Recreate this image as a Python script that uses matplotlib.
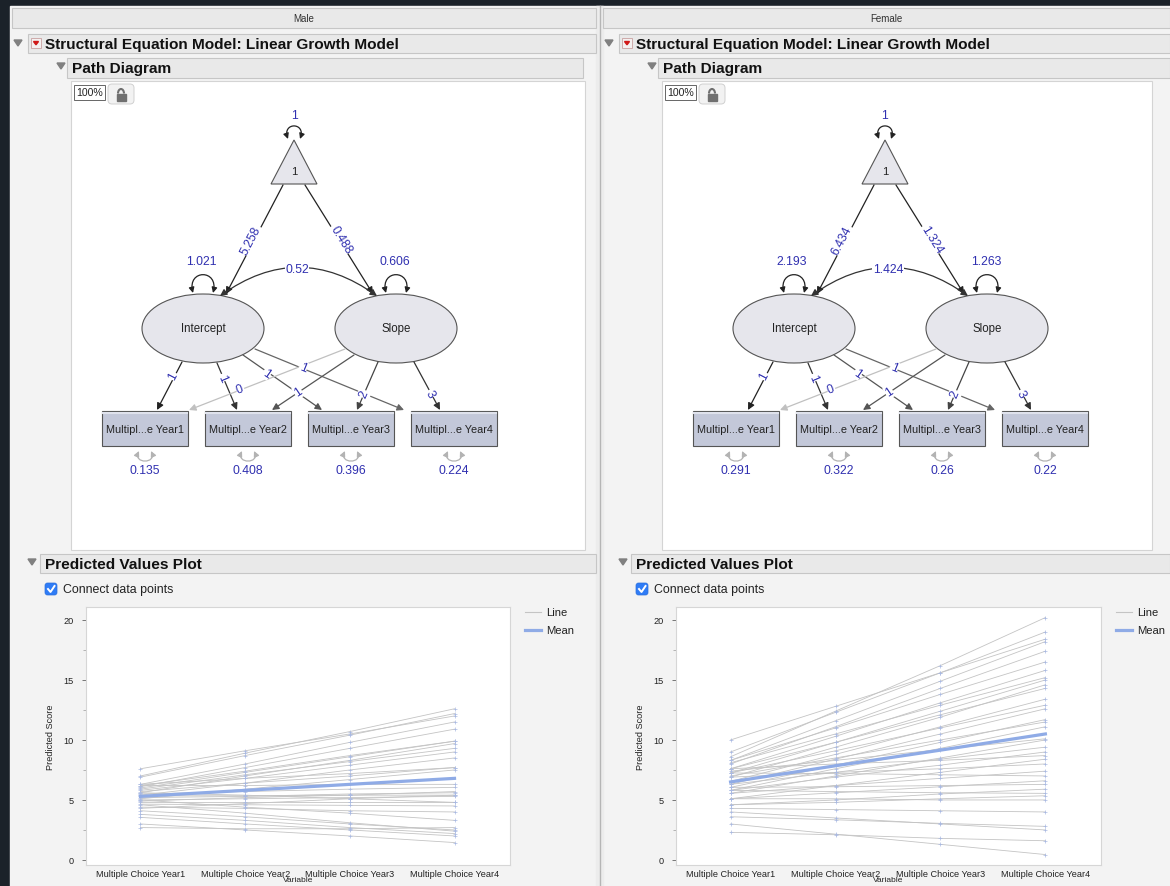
import numpy as np
import matplotlib
matplotlib.use("Agg")
import matplotlib.pyplot as plt
from matplotlib.patches import Rectangle, Ellipse, Polygon, FancyArrowPatch, FancyBboxPatch, Arc
from matplotlib.path import Path

plt.rcParams['font.family'] = ['Liberation Sans', 'DejaVu Sans']

# ---- data ----
groups = ['Male', 'Female']
variables = ['Multiple Choice Year1', 'Multiple Choice Year2',
             'Multiple Choice Year3', 'Multiple Choice Year4']
box_labels = ['Multipl...e Year1', 'Multipl...e Year2',
              'Multipl...e Year3', 'Multipl...e Year4']
intercept_loadings = [1, 1, 1, 1]
slope_loadings = [0, 1, 2, 3]

male_means = [5.258, 0.488]
male_vars = [1.021, 0.606]
male_cov = 0.52
male_resid = [0.135, 0.408, 0.396, 0.224]

female_means = [6.434, 1.324]
female_vars = [2.193, 1.263]
female_cov = 1.424
female_resid = [0.291, 0.322, 0.26, 0.22]

# predicted score per person, Year1..Year4
male_lines = [
    [7.0, 8.9, 10.7, 12.6], [6.9, 8.7, 10.4, 12.2], [7.6, 9.1, 10.5, 12.0],
    [6.3, 8.0, 9.8, 11.5], [6.1, 7.7, 9.3, 10.9], [6.2, 7.4, 8.7, 9.9],
    [5.6, 7.0, 8.3, 9.7], [5.9, 7.1, 8.2, 9.3], [5.4, 6.4, 7.5, 8.5],
    [6.3, 6.8, 7.2, 7.7], [5.1, 5.9, 6.7, 7.5], [6.2, 6.2, 6.3, 6.3],
    [5.5, 5.7, 5.9, 6.05], [5.2, 5.3, 5.5, 5.6], [5.35, 5.35, 5.4, 5.4],
    [4.9, 5.2, 5.4, 5.7], [5.6, 5.4, 5.1, 4.8], [4.65, 4.6, 4.55, 4.5],
    [4.4, 4.3, 4.1, 4.0], [5.0, 4.4, 3.9, 3.3], [4.1, 3.6, 3.0, 2.5],
    [4.6, 3.9, 3.1, 2.4], [3.8, 3.3, 2.7, 2.2], [3.55, 3.0, 2.5, 2.0],
    [3.0, 2.5, 2.0, 1.45], [2.7, 2.6, 2.6, 2.7], [4.3, 4.7, 5.1, 5.4],
    [5.7, 6.4, 7.0, 7.7], [4.8, 4.8, 4.8, 4.8], [6.0, 7.3, 8.6, 9.9],
    [5.0, 5.1, 5.2, 5.3], [5.8, 6.8, 7.9, 9.0],
]
male_mean_line = [5.3, 5.8, 6.3, 6.8]

female_lines = [
    [10.0, 12.8, 15.6, 18.4], [8.6, 12.4, 16.2, 20.2], [9.0, 12.3, 15.6, 19.0],
    [8.3, 11.6, 14.9, 18.2], [8.0, 11.1, 14.3, 17.4], [8.3, 11.0, 13.8, 16.5],
    [7.6, 10.3, 13.1, 15.8], [8.1, 10.5, 12.9, 15.2], [7.25, 9.8, 12.4, 15.0],
    [6.9, 9.4, 11.9, 14.6], [7.6, 9.8, 12.1, 14.3], [6.55, 8.8, 11.1, 13.4],
    [7.25, 9.1, 11.0, 12.9], [6.3, 8.4, 10.5, 12.6], [6.05, 7.9, 9.8, 11.7],
    [7.0, 8.5, 10.0, 11.5], [5.8, 7.6, 9.3, 11.1], [7.4, 8.3, 9.2, 10.1],
    [5.55, 7.0, 8.5, 10.0], [6.3, 7.3, 8.4, 9.4], [5.8, 6.9, 7.9, 9.0],
    [7.6, 8.0, 8.3, 8.7], [5.1, 6.2, 7.3, 8.4], [6.9, 7.3, 7.6, 8.0],
    [5.55, 6.2, 6.8, 7.4], [7.25, 7.2, 7.1, 7.0], [5.1, 5.6, 6.1, 6.6],
    [6.05, 6.1, 6.2, 6.3], [4.6, 5.0, 5.5, 5.9], [5.8, 5.7, 5.6, 5.55],
    [4.6, 4.8, 5.1, 5.35], [5.1, 5.1, 5.0, 5.0], [4.3, 4.2, 4.1, 4.0],
    [4.0, 3.5, 3.0, 2.5], [3.6, 3.35, 3.05, 2.8], [3.0, 2.15, 1.3, 0.45],
    [2.3, 2.1, 1.8, 1.6],
]
female_mean_line = [6.5, 7.85, 9.15, 10.5]

W, H = 1170, 887
BLUE_TXT = '#3030b0'
PANEL = '#f3f3f3'
HEAD_FS = 11.1

fig = plt.figure(figsize=(11.7, 8.87), dpi=100)
bg = fig.add_axes([0, 0, 1, 1])
bg.set_xlim(0, W)
bg.set_ylim(H, 0)
bg.axis('off')

bg.add_patch(Rectangle((0, 0), W, H, color='#1b2229'))
bg.add_patch(Rectangle((10, 7), W - 10, H - 7, color=PANEL))
bg.add_patch(Rectangle((596, 7), 7, H, color='#ececec'))
bg.plot([599.5, 599.5], [7, H], color='#b5b5b5', lw=1)


def bar(x0, y0, x1, y1):
    bg.add_patch(Rectangle((x0, y0), x1 - x0, y1 - y0, fc='#e9e9e9', ec='#c6c6c6', lw=0.8))


def disclosure(x, y):
    bg.add_patch(Polygon([(x - 4, y - 3), (x + 4, y - 3), (x, y + 3)], color='#808080'))


def red_menu(x, y):
    bg.add_patch(Rectangle((x, y), 10, 10, fc='#f4f0f0', ec='#c8a0a0', lw=0.6))
    bg.add_patch(Polygon([(x + 2.5, y + 3.5), (x + 7.5, y + 3.5), (x + 5, y + 6.8)], color='#d01818'))


def draw_loop(p0, p1, h, color, lw=0.9):
    (x0, y0), (x1, y1) = p0, p1
    verts = [(x0, y0), (x0 - 6, y0 + h), (x1 + 6, y1 + h), (x1, y1)]
    codes = [Path.MOVETO, Path.CURVE4, Path.CURVE4, Path.CURVE4]
    bg.add_patch(FancyArrowPatch(path=Path(verts, codes), arrowstyle='<|-|>',
                                 mutation_scale=8, color=color, lw=lw))


def arrow(p0, p1, color, lw=0.9):
    bg.add_patch(FancyArrowPatch(p0, p1, arrowstyle='-|>', mutation_scale=10,
                                 color=color, lw=lw, shrinkA=0, shrinkB=0))


def line_angle(p0, p1):
    a = np.degrees(np.arctan2(-(p1[1] - p0[1]), p1[0] - p0[0]))
    if a > 90:
        a -= 180
    elif a <= -90:
        a += 180
    return a


def num(x, y, s, rot=0, box=True):
    kw = dict(boxstyle='square,pad=0.05', fc='white', ec='none') if box else None
    bg.text(x, y, s, color=BLUE_TXT, fontsize=8.8, ha='center', va='center',
            rotation=rot, rotation_mode='anchor', bbox=kw)


def fmt(v):
    return ('%.3f' % v).rstrip('0').rstrip('.')


def diagram(dx, means, vars_, cov, resid):
    X = lambda x: x + dx
    # mean triangle
    bg.add_patch(Polygon([(X(294), 141), (X(271), 185), (X(317), 185)],
                         fc='#e6e6ec', ec='#555555', lw=0.8))
    bg.text(X(294), 172, '1', fontsize=8, ha='center', va='center', color='#222222')
    draw_loop((X(288), 140), (X(300), 140), -17, '#222222')
    num(X(294), 116, '1', box=False)

    # latent ellipses
    for cx, name in [(203, 'Intercept'), (396, 'Slope')]:
        bg.add_patch(Ellipse((X(cx), 329.5), 122, 69, fc='#e6e6ec', ec='#555555', lw=0.8))
        bg.text(X(cx), 329.5, name, fontsize=8.3, ha='center', va='center', color='#222222')

    # triangle -> latent means
    m_paths = [((283, 186), (226, 295), (251, 241)),
               ((305, 186), (373, 295), (341, 240))]
    for (p0, p1, lp), v in zip(m_paths, means):
        arrow((X(p0[0]), p0[1]), (X(p1[0]), p1[1]), '#222222')
        num(X(lp[0]), lp[1], fmt(v), rot=line_angle(p0, p1))

    # variances
    draw_loop((X(193), 294), (X(213), 294), -24, '#222222')
    num(X(201), 262, fmt(vars_[0]), box=False)
    draw_loop((X(386), 294), (X(406), 294), -24, '#222222')
    num(X(395), 262, fmt(vars_[1]), box=False)

    # covariance
    bg.add_patch(FancyArrowPatch((X(220), 297), (X(377), 297), connectionstyle='arc3,rad=-0.36',
                                 arrowstyle='<|-|>', mutation_scale=10, color='#333333', lw=0.9,
                                 shrinkA=0, shrinkB=0))
    num(X(297), 270, fmt(cov))

    # indicator boxes
    bx = [102, 205, 308, 411]
    for i, x0 in enumerate(bx):
        bg.add_patch(Rectangle((X(x0), 412), 86, 35, fc='#c3c8d9', ec='#555555', lw=0.8))
        bg.plot([X(x0) + 1, X(x0) + 85], [413.5, 413.5], color='#dfe2ec', lw=1.5)
        bg.text(X(x0 + 43), 430, box_labels[i], fontsize=7.8, ha='center', va='center', color='#222222')
        draw_loop((X(x0 + 37), 452), (X(x0 + 49), 452), 13, '#b3b3b3', lw=0.9)
        num(X(x0 + 43), 471, fmt(resid[i]), box=False)

    # loadings
    int_paths = [((182, 363), (157, 411), (173, 377), '#222222'),
                 ((217, 364), (237, 411), (222, 379), '#333333'),
                 ((243, 356), (322, 411), (267, 374), '#555555'),
                 ((255, 350), (404, 411), (303, 369), '#666666')]
    sl_paths = [((345, 350), (189, 411), (240, 390), '#c0c0c0'),
                ((354, 356), (272, 411), (298, 393), '#555555'),
                ((378, 363), (357, 411), (364, 395), '#444444'),
                ((414, 363), (440, 411), (430, 395), '#333333')]
    for p0, p1, lp, c in int_paths + sl_paths:
        arrow((X(p0[0]), p0[1]), (X(p1[0]), p1[1]), c)
    for (p0, p1, lp, c), v in zip(int_paths + sl_paths, intercept_loadings + slope_loadings):
        num(X(lp[0]), lp[1], str(v), rot=line_angle(p0, p1))


def panel(dx, right, label, means, vars_, cov, resid):
    X = lambda x: x + dx
    bar(X(12), 9, right, 29)
    bg.text((X(12) + right) / 2, 19, label, fontsize=7, ha='center', va='center', color='#333333')
    bar(X(28), 35, right, 54)
    disclosure(X(18), 44)
    red_menu(X(31), 39)
    bg.text(X(45), 44.5, 'Structural Equation Model: Linear Growth Model', fontsize=HEAD_FS,
            fontweight='bold', ha='left', va='center', color='#111111')
    bar(X(67), 59, X(583) if dx == 0 else right, 79)
    disclosure(X(61), 67)
    bg.text(X(72), 69.5, 'Path Diagram', fontsize=HEAD_FS, fontweight='bold',
            ha='left', va='center', color='#111111')
    bg.add_patch(Rectangle((X(71), 82), (585 - 71) if dx == 0 else 1152 - X(71), 469,
                           fc='white', ec='#d4d4d4', lw=0.8))
    bg.add_patch(Rectangle((X(74), 86), 31, 15, fc='white', ec='#666666', lw=0.7))
    bg.text(X(89.5), 93.5, '100%', fontsize=7.6, ha='center', va='center', color='#222222')
    bg.add_patch(FancyBboxPatch((X(108), 85), 26, 20, boxstyle='round,pad=0,rounding_size=4',
                                fc='#f2f2f2', ec='#d0d0d0', lw=0.7))
    bg.add_patch(Rectangle((X(116.5), 94.5), 9, 7.5, color='#707070'))
    bg.add_patch(Arc((X(121), 94.5), 6, 9, theta1=180, theta2=360, color='#707070', lw=1.5))
    diagram(dx, means, vars_, cov, resid)

    bar(X(40), 555, right, 574)
    disclosure(X(32), 563)
    bg.text(X(45), 565, 'Predicted Values Plot', fontsize=HEAD_FS, fontweight='bold',
            ha='left', va='center', color='#111111')
    bg.add_patch(FancyBboxPatch((X(45), 584), 12, 12, boxstyle='round,pad=0,rounding_size=2.5',
                                fc='#2f7cf6', ec='#2a6fdc', lw=0.5))
    bg.plot([X(48), X(50.5), X(54.5)], [590, 593, 587], color='white', lw=1.4)
    bg.text(X(63), 590, 'Connect data points', fontsize=8.9, ha='left', va='center', color='#222222')

    # legend
    bg.plot([X(525), X(541)], [613, 613], color='#c4c4c4', lw=0.8)
    bg.text(X(546), 613, 'Line', fontsize=8.1, ha='left', va='center', color='#222222')
    bg.plot([X(525), X(541)], [631, 631], color='#8fabe6', lw=2.3)
    bg.text(X(546), 631, 'Mean', fontsize=8.1, ha='left', va='center', color='#222222')


def predicted(px0, px1, lines, mean_line):
    ax = fig.add_axes([px0 / W, 1 - 866 / H, (px1 - px0) / W, 258 / H])
    xs = np.arange(len(variables))
    for row in lines:
        ax.plot(xs, row, color='#c4c4c4', lw=0.6, zorder=2)
        ax.plot(xs, row, ls='none', marker='+', ms=2.5, mew=0.5, color='#a9b9e2', zorder=3)
    ax.plot(xs, mean_line, color='#8fabe6', lw=2.3, zorder=4)
    ax.set_xlim(-0.52, 3.53)
    ax.set_ylim(-0.42, 21.08)
    ax.set_xticks(xs)
    ax.set_xticklabels(variables, fontsize=6.6, color='#222222')
    ax.set_yticks([0, 5, 10, 15, 20])
    ax.set_yticks([2.5, 7.5, 12.5, 17.5], minor=True)
    ax.tick_params(axis='y', labelsize=6.6, colors='#444444', length=3, width=0.5, pad=6)
    ax.tick_params(axis='y', which='minor', length=2, width=0.5, colors='#999999')
    ax.tick_params(axis='y', labelcolor='#222222')
    ax.tick_params(axis='x', length=0, pad=3)
    for s in ax.spines.values():
        s.set_color('#d6d6d6')
        s.set_linewidth(0.8)
    ax.set_ylabel('Predicted Score', fontsize=6.6, color='#222222', labelpad=6)
    ax.set_xlabel('Variable', fontsize=6.0, color='#222222')
    ax.xaxis.set_label_coords(0.5, -0.043)
    return ax


panel(0, 596, groups[0], male_means, male_vars, male_cov, male_resid)
panel(591, W, groups[1], female_means, female_vars, female_cov, female_resid)
predicted(86, 510, male_lines, male_mean_line)
predicted(676, 1101, female_lines, female_mean_line)

fig.savefig('out.png', dpi=100)
